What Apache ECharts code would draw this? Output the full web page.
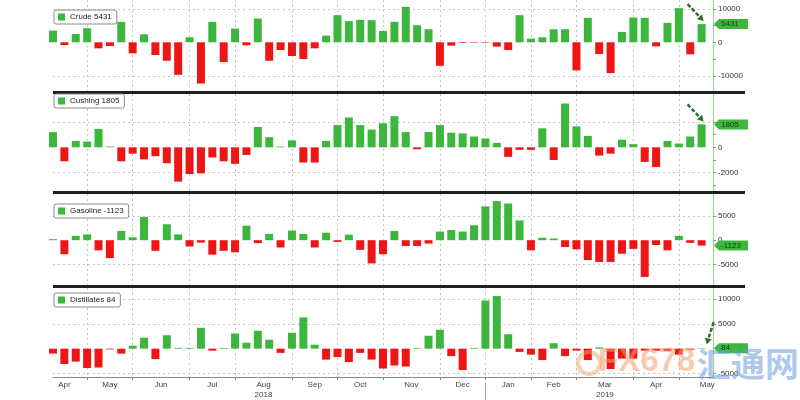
<!DOCTYPE html>
<html><head><meta charset="utf-8">
<script src="https://cdn.jsdelivr.net/npm/echarts@6/dist/echarts.min.js"></script>
<style>html,body{margin:0;padding:0;background:#fff}#c{width:800px;height:400px}</style>
</head><body><div id="c"></div>
<script>
// Weekly categories (week ending). Last entry is an empty slot at the right edge.
const weeks = [
 '2018-04-13','2018-04-20','2018-04-27',
 '2018-05-04','2018-05-11','2018-05-18','2018-05-25',
 '2018-06-01','2018-06-08','2018-06-15','2018-06-22','2018-06-29',
 '2018-07-06','2018-07-13','2018-07-20','2018-07-27',
 '2018-08-03','2018-08-10','2018-08-17','2018-08-24','2018-08-31',
 '2018-09-07','2018-09-14','2018-09-21','2018-09-28',
 '2018-10-05','2018-10-12','2018-10-19','2018-10-26',
 '2018-11-02','2018-11-09','2018-11-16','2018-11-23','2018-11-30',
 '2018-12-07','2018-12-14','2018-12-21','2018-12-28',
 '2019-01-04','2019-01-11','2019-01-18','2019-01-25',
 '2019-02-01','2019-02-08','2019-02-15','2019-02-22',
 '2019-03-01','2019-03-08','2019-03-15','2019-03-22','2019-03-29',
 '2019-04-05','2019-04-12','2019-04-19','2019-04-26',
 '2019-05-03','2019-05-10','2019-05-17','2019-05-24'
];
// Weekly inventory changes (thousand barrels)
const crude = [3500,-800,2500,4200,-1800,-1100,6100,-3300,2400,-3800,-5500,-9700,1500,-12300,6100,-5900,4100,-900,7100,-5500,-2300,-4100,-5000,-1800,2000,8100,6300,6700,6600,3400,6100,10600,5100,3900,-7000,-1000,-200,-150,-150,-1300,-2300,8100,1100,1500,3900,3900,-8400,7300,-3500,-9200,3100,7400,7300,-1200,5800,10200,-3600,5431];
const cushing = [1200,-1100,500,450,1450,60,-1100,-500,-950,-700,-1250,-2700,-2100,-2050,-800,-1100,-1300,-600,1600,800,60,550,-1200,-1200,500,1750,2350,1750,1400,1900,2450,1200,-150,1200,1750,1150,1100,850,700,350,-750,-200,-200,1500,-1000,3450,1650,900,-650,-500,600,250,-1150,-1550,500,300,850,1805];
const gasoline = [200,-2900,900,1200,-2100,-3700,1900,600,4800,-2200,3300,1200,-1300,-500,-3000,-2200,-2500,3000,-600,1300,-1500,2000,1300,-1500,1550,-350,1150,-2000,-4800,-2900,1900,-1200,-1200,-700,1800,2100,1800,3100,7000,8100,7600,4100,-2100,500,350,-1400,-1900,-4100,-4500,-4500,-2800,-1800,-7600,-1000,-2100,900,-550,-1123];
const distillates = [-1000,-3100,-2600,-3900,-3800,-150,-1000,600,2200,-2100,2700,150,150,4200,-400,150,3050,1200,3600,1800,-850,3200,6300,800,-2200,-1700,-2700,-850,-2200,-4000,-3400,-3600,150,2600,3800,-1500,-4300,150,9700,10600,2900,-650,-1200,-2300,1100,-1500,-400,-2300,250,-4100,-2000,-2000,-400,-400,-500,-1200,-200,84];
// Month tick labels: first week of each month (next one closes the last span)
const monthStarts = ['2018-04-06','2018-05-04','2018-06-01','2018-07-06','2018-08-03','2018-09-07','2018-10-05','2018-11-02','2018-12-07','2019-01-04','2019-02-01','2019-03-01','2019-04-05','2019-05-03','2019-06-07'];
const monthNames = ['Apr','May','Jun','Jul','Aug','Sep','Oct','Nov','Dec','Jan','Feb','Mar','Apr','May'];
const yearNames  = ['','','','','2018','','','','','','','2019','',''];
const seriesNames = ['Crude','Cushing','Gasoline','Distillates'];
const yLabels = [[10000,0,-10000],[0,-2000],[5000,0,-5000],[10000,5000,-5000]];
const yTicks  = [[10000,5000,0,-5000,-10000],[2000,1000,0,-1000,-2000,-3000],[5000,0,-5000],[10000,5000,0,-5000]];
const yGrid   = [[10000,-10000],[2000,-2000],[5000,-5000],[10000,5000,-5000]];

const GREEN = '#3db63d', RED = '#ee1515';
const FONT = 'Liberation Sans';
const values = [crude, cushing, gasoline, distillates];
// layout (px) and axis ranges
const layout = [
  {top:0,   height:91, min:-14540, max:12630, legendTop:10},
  {top:94,  height:97, min:-3440,  max:4200,  legendTop:94},
  {top:194, height:91, min:-9275,  max:9565,  legendTop:204},
  {top:288, height:92, min:-5710,  max:12220, legendTop:293}
];

const DAY = 864e5;
const w0 = new Date(weeks[0]).getTime();
const idxOf = d => Math.round((new Date(d).getTime() - w0) / (7 * DAY));
const monthStartSet = new Set(monthStarts);
const monthMid = [];
for (let k = 0; k < monthNames.length; k++) {
  monthMid.push((idxOf(monthStarts[k]) + idxOf(monthStarts[k + 1])) / 2);
}
const lastIdx = weeks.length - 1;

const chart = echarts.init(document.getElementById('c'), null, {renderer: 'canvas'});

const grid = [], xAxis = [], yAxis = [], series = [], legend = [];
layout.forEach((L, i) => {
  grid.push({left: 53, right: 87, top: L.top, height: L.height});
  const isLast = i === 3;
  xAxis.push({
    type: 'category', gridIndex: i, data: weeks, boundaryGap: false,
    axisLine: {show: isLast, onZero: false, lineStyle: {color: '#8a8a8a', width: 1}},
    axisTick: {show: isLast, interval: (n, v) => monthStartSet.has(v), length: 3, lineStyle: {color: '#8a8a8a'}},
    axisLabel: {show: false},
    splitLine: {show: true, interval: (n, v) => monthStartSet.has(v), lineStyle: {color: '#c4c4c4', type: [2, 3], width: 1}}
  });
  yAxis.push({
    type: 'value', gridIndex: i, position: 'right', min: L.min, max: L.max,
    axisLine: {show: true, onZero: false, lineStyle: {color: '#9fd89f', width: 1.2}},
    axisTick: {show: true, customValues: yTicks[i], length: 3, lineStyle: {color: '#7aa87a'}},
    axisLabel: {show: true, customValues: yLabels[i], fontSize: 8, color: '#333', margin: 5, fontFamily: FONT, formatter: v => String(v)},
    splitLine: {show: false}
  });
  const vals = values[i];
  series.push({
    name: seriesNames[i], type: 'bar', xAxisIndex: i, yAxisIndex: i,
    barWidth: 8, itemStyle: {color: GREEN}, animation: false, clip: true,
    data: vals.map(v => v < 0 ? {value: v, itemStyle: {color: RED}} : v),
    markLine: {
      silent: true, symbol: 'none', animation: false, z: 1,
      label: {show: false},
      lineStyle: {color: '#c4c4c4', type: [2, 3], width: 1},
      data: yGrid[i].map(v => ({yAxis: v}))
    }
  });
  legend.push({
    data: [{name: seriesNames[i], icon: 'rect', itemStyle: {color: GREEN, borderWidth: 0}}],
    left: 54, top: L.legendTop, orient: 'horizontal', z: 12,
    backgroundColor: '#fff', borderColor: '#8c8c8c', borderWidth: 1, borderRadius: 2,
    padding: [3, 5, 3, 4], itemWidth: 7, itemHeight: 7,
    itemStyle: {color: GREEN, borderWidth: 0},
    textStyle: {fontSize: 8, color: '#222', fontFamily: FONT},
    formatter: nm => nm + ' ' + vals[vals.length - 1],
    selectedMode: false
  });
});
// month label axis (bottom panel)
xAxis.push({
  type: 'value', gridIndex: 3, position: 'bottom', min: 0, max: lastIdx,
  axisLine: {show: false, onZero: false}, axisTick: {show: false}, splitLine: {show: false},
  axisLabel: {
    show: true, customValues: monthMid.filter(m => m >= 0 && m <= lastIdx),
    fontSize: 8, color: '#444', margin: 3, lineHeight: 10, fontFamily: FONT,
    showMinLabel: true, showMaxLabel: true,
    formatter: v => {
      const k = monthMid.findIndex(m => Math.abs(m - v) < 0.01);
      if (k < 0) return '';
      return yearNames[k] ? monthNames[k] + '\n' + yearNames[k] : monthNames[k];
    }
  }
});

chart.setOption({
  animation: false,
  textStyle: {fontFamily: FONT},
  grid, xAxis, yAxis, series, legend
});

// decorations: panel separators, current-value tags, annotation arrows, watermark
const gfx = [];
for (let i = 0; i < 3; i++) {
  const y0 = layout[i].top + layout[i].height;
  gfx.push({type: 'rect', shape: {x: 53, y: y0, width: 692, height: layout[i + 1].top - y0}, style: {fill: '#1f1f1f'}, z: 10});
}
const arrowOffsets = [[[2, -3], [-16, -17]], [[2, -3], [-16, -17]], null, [[5, -4], [7, -22]]];
values.forEach((vals, i) => {
  const last = vals[vals.length - 1];
  const p = chart.convertToPixel({xAxisIndex: i, yAxisIndex: i}, [weeks[vals.length - 1], last]);
  const ax = chart.convertToPixel({xAxisIndex: i}, weeks[lastIdx]);
  const y = p[1];
  gfx.push({type: 'polygon', z: 20, shape: {points: [[ax + 1, y], [ax + 6, y - 5], [ax + 35, y - 5], [ax + 35, y + 5], [ax + 6, y + 5]]}, style: {fill: GREEN}});
  gfx.push({type: 'text', z: 21, x: ax + 8, y: y, style: {text: String(last), fill: '#143d14', font: '8px ' + FONT, verticalAlign: 'middle'}});
  const ao = arrowOffsets[i];
  if (ao) {
    const tip = [p[0] + ao[0][0], p[1] + ao[0][1]];
    const tail = [tip[0] + ao[1][0], tip[1] + ao[1][1]];
    const dx = tip[0] - tail[0], dy = tip[1] - tail[1];
    const len = Math.hypot(dx, dy), ux = dx / len, uy = dy / len;
    const bx = tip[0] - ux * 6, by = tip[1] - uy * 6;
    gfx.push({type: 'line', z: 22, shape: {x1: tail[0], y1: tail[1], x2: bx, y2: by}, style: {stroke: '#2e6e2e', lineWidth: 2.5, lineDash: [4, 2]}});
    gfx.push({type: 'polygon', z: 22, shape: {points: [tip, [bx - uy * 3.5, by + ux * 3.5], [bx + uy * 3.5, by - ux * 3.5]]}, style: {fill: '#2e6e2e'}});
  }
});
// year separator tick
const yx = chart.convertToPixel({xAxisIndex: 3}, '2019-01-04');
gfx.push({type: 'line', z: 5, shape: {x1: yx, y1: 383, x2: yx, y2: 400}, style: {stroke: '#9a9a9a', lineWidth: 1}});
// watermark
gfx.push({type: 'circle', z: 30, shape: {cx: 589, cy: 363, r: 11}, style: {fill: 'none', stroke: '#f6a46a', lineWidth: 4, opacity: 0.5}});
gfx.push({type: 'text', z: 30, x: 598, y: 378, style: {text: 'FX678', fill: '#f4a06a', font: 'bold 33px ' + FONT, verticalAlign: 'bottom', opacity: 0.55}});
gfx.push({type: 'text', z: 30, x: 697, y: 381, style: {text: '汇通网', fill: '#6d9be0', font: 'bold 34px "Noto Sans CJK SC"', verticalAlign: 'bottom', opacity: 0.55}});
chart.setOption({graphic: gfx});
</script>
</body></html>
